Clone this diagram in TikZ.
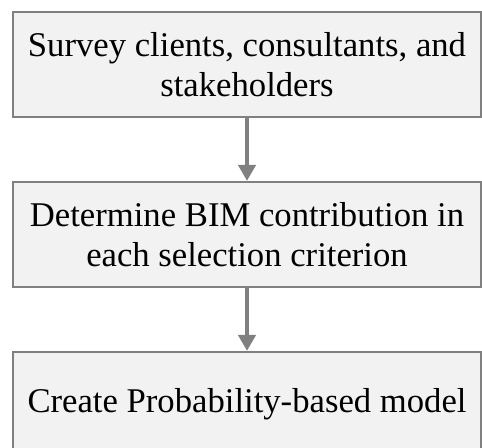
\documentclass[tikz,border=0pt]{standalone}
\usepackage{fontspec}
\setmainfont{Liberation Serif}
\usetikzlibrary{positioning}
\usetikzlibrary{arrows.meta}
\definecolor{boxfill}{HTML}{F2F2F2}
\definecolor{boxline}{HTML}{808080}
\tikzset{
   stage/.style={draw=boxline, fill=boxfill, line width=1.5pt,
      minimum width=351pt, minimum height=79pt, inner sep=0pt,
      align=center, font=\rmfamily\fontsize{26}{30}\selectfont},
   flow/.style={draw=boxline, line width=2.7pt,
      -{Triangle[width=13pt,length=12pt]}},
    }
\begin{document}
\begin{tikzpicture}[x=0.75pt,y=-0.75pt, node distance=47pt]
        \clip (0,0) rectangle (482,448);
        \useasboundingbox (0,0) rectangle (482,448);
        % steps
        \node[stage] (survey) at (247,64.5) {Survey clients, consultants, and\\stakeholders};
        \node[stage, below=of survey] (contrib) {Determine BIM contribution in\\each selection criterion};
        \node[stage, below=of contrib] (model) {Create Probability-based model};
        % arrows
        \draw[flow] (survey) -- (contrib);
        \draw[flow] (contrib) -- (model);
\end{tikzpicture}
\end{document}
